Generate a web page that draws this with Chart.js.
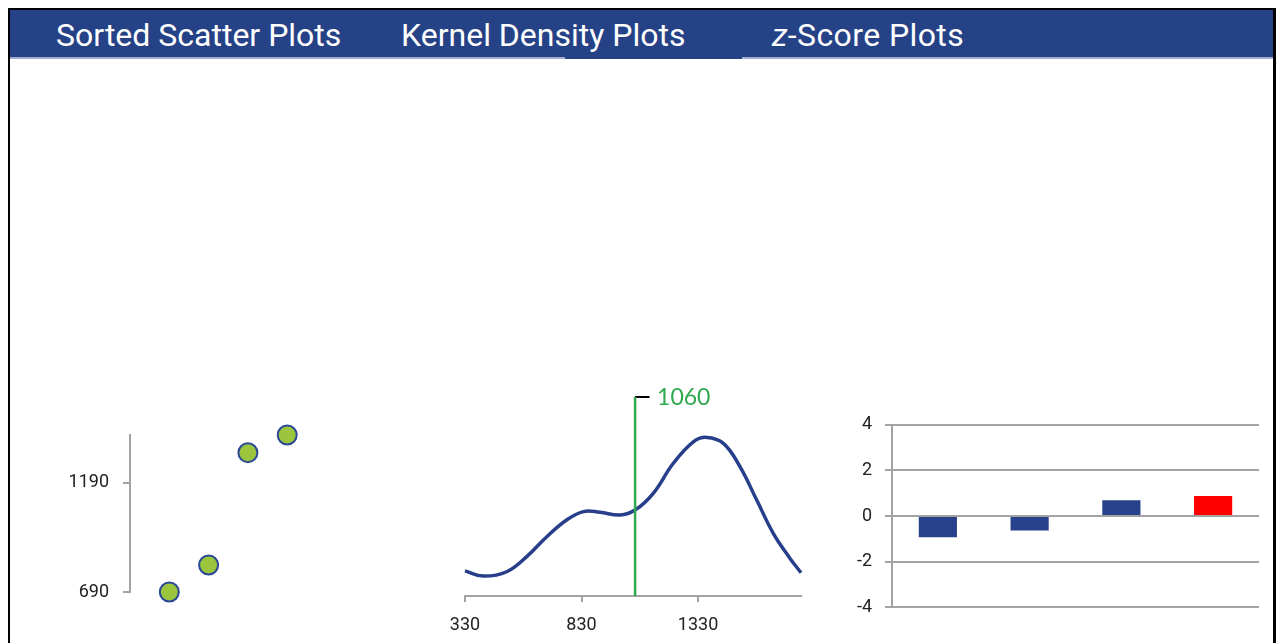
<!DOCTYPE html>
<html><head><meta charset="utf-8">
<script src="https://cdn.jsdelivr.net/npm/chart.js@4.4.1/dist/chart.umd.min.js"></script>
<style>
html,body{margin:0;padding:0;background:#fff;}
body{width:1276px;height:643px;position:relative;overflow:hidden;}
.blk{position:absolute;background:#000;}
.header{position:absolute;left:10px;top:10px;width:1263px;height:47px;background:#264287;}
.header-line{position:absolute;left:10px;top:57px;width:1263px;height:2px;background:#a3add0;}
.active{position:absolute;left:565px;top:57px;width:177px;height:2px;background:#264287;}
.tab{position:absolute;top:19px;color:#fff;font-family:Roboto,'Noto Sans',sans-serif;font-size:32px;line-height:32px;white-space:nowrap;}
canvas{position:absolute;}
</style></head>
<body>
<div class="blk" style="left:8px;top:8px;width:1268px;height:2px"></div>
<div class="blk" style="left:8px;top:8px;width:2px;height:635px"></div>
<div class="blk" style="left:1273px;top:8px;width:3px;height:635px"></div>
<div class="header"></div>
<div class="header-line"></div>
<div class="active"></div>
<div class="tab" style="left:56px">Sorted Scatter Plots</div>
<div class="tab" style="left:401px">Kernel Density Plots</div>
<div class="tab" style="left:772px;letter-spacing:0.4px"><i>z</i>-Score Plots</div>

<canvas id="c1" width="340" height="200" style="left:0px;top:415px"></canvas>
<canvas id="c2" width="390" height="273" style="left:440px;top:370px"></canvas>
<canvas id="c3" width="430" height="243" style="left:840px;top:400px"></canvas>

<script>
// ---- data ----
const scatterX = [1, 2, 3, 4];
const scatterY = [690, 814, 1329, 1410];
const scatterTicks = [690, 1190];

const densityX = [330, 409, 509, 595, 681, 766, 838, 909, 995, 1060, 1138, 1224, 1310, 1367, 1439, 1510, 1582, 1653, 1725, 1772];
const densityY = [0.126, 0.100, 0.122, 0.198, 0.298, 0.382, 0.424, 0.421, 0.407, 0.432, 0.516, 0.667, 0.775, 0.797, 0.767, 0.650, 0.482, 0.315, 0.189, 0.117];
const densityTicks = [330, 830, 1330];
const meanValue = 1060;
const meanLabel = '1060';

const zCategories = ['1', '2', '3', '4'];
const zValues = [-0.93, -0.64, 0.69, 0.88];
const zTicks = [-4, -2, 0, 2, 4];
const highlightIndex = 3;

// ---- styles ----
const tickFont = {family: "Roboto, sans-serif", size: 18};
const tickColor = '#222222';
const axisGrey = '#a3a3a3';
const navy = '#27428a';

Chart.defaults.animation = false;
Chart.defaults.responsive = false;
Chart.defaults.plugins.legend.display = false;
Chart.defaults.plugins.tooltip.enabled = false;

function fixVertical(width) {
  return s => { s.width = width; s.paddingTop = 0; s.paddingBottom = 0; };
}

// ---- scatter ----
new Chart(document.getElementById('c1'), {
  type: 'scatter',
  data: {datasets: [{
    data: scatterX.map((x, i) => ({x, y: scatterY[i]})),
    backgroundColor: '#9bc53d', borderColor: '#2b4898', borderWidth: 2,
    pointRadius: 9.5, clip: false
  }]},
  options: {
    layout: {padding: {top: 20, bottom: 23, left: 0, right: 13.5}},
    scales: {
      x: {type: 'linear', min: 0, max: 5, display: false},
      y: {type: 'linear', min: scatterTicks[0], max: scatterY[scatterY.length - 1],
        afterBuildTicks: s => { s.ticks = scatterTicks.map(v => ({value: v})); },
        afterFit: fixVertical(130),
        grid: {drawOnChartArea: false, drawTicks: true, tickLength: 7, color: axisGrey, lineWidth: 2},
        border: {display: true, color: axisGrey, width: 2},
        ticks: {font: tickFont, color: tickColor, padding: 14, callback: v => String(v)}
      }
    }
  }
});

// ---- kernel density ----
const meanLabelPlugin = {
  id: 'meanLabel',
  afterDatasetsDraw(chart) {
    const {ctx, scales: {x, y}} = chart;
    const px = x.getPixelForValue(meanValue);
    const py = y.getPixelForValue(y.max);
    ctx.save();
    ctx.fillStyle = '#2fa84f';
    ctx.font = "23px Lato, 'Open Sans', sans-serif";
    ctx.textAlign = 'left';
    ctx.textBaseline = 'middle';
    ctx.fillText(meanLabel, px + 22, py + 1);
    ctx.restore();
  }
};
new Chart(document.getElementById('c2'), {
  type: 'line',
  data: {datasets: [
    {data: [{x: meanValue, y: 0}, {x: meanValue, y: 1}], borderColor: '#2fa84f', borderWidth: 2.5, pointRadius: 0, clip: false},
    {data: [{x: meanValue, y: 1}, {x: meanValue + 62, y: 1}], borderColor: '#000000', borderWidth: 2, pointRadius: 0, clip: false},
    {data: densityX.map((x, i) => ({x, y: densityY[i]})), borderColor: '#273f8a', borderWidth: 3.5,
      pointRadius: 0, tension: 0.4, clip: false}
  ]},
  options: {
    layout: {padding: {top: 27, left: 25, right: 29, bottom: 0}},
    scales: {
      x: {type: 'linear', min: densityTicks[0], max: densityX[densityX.length - 1],
        afterBuildTicks: s => { s.ticks = densityTicks.map(v => ({value: v})); },
        afterFit: s => { s.height = 47; s.paddingLeft = 0; s.paddingRight = 0; },
        grid: {drawOnChartArea: false, drawTicks: true, tickLength: 6, color: axisGrey, lineWidth: 2},
        border: {display: true, color: axisGrey, width: 2},
        ticks: {font: tickFont, color: tickColor, padding: 13, maxRotation: 0, callback: v => String(v)}
      },
      y: {type: 'linear', min: 0, max: 1, display: false}
    }
  },
  plugins: [meanLabelPlugin]
});

// ---- z-scores ----
new Chart(document.getElementById('c3'), {
  type: 'bar',
  data: {labels: zCategories, datasets: [{
    data: zValues,
    backgroundColor: ctx => ctx.dataIndex === highlightIndex ? '#ff0000' : navy,
    categoryPercentage: 0.8, barPercentage: 0.52
  }]},
  options: {
    layout: {padding: {top: 24.7, bottom: 35.7, left: 0, right: 11}},
    scales: {
      x: {display: false},
      y: {min: zTicks[0], max: zTicks[zTicks.length - 1],
        afterBuildTicks: s => { s.ticks = zTicks.map(v => ({value: v})); },
        afterFit: fixVertical(52),
        grid: {drawTicks: true, tickLength: 7, color: axisGrey, lineWidth: 2},
        border: {display: true, color: axisGrey, width: 2},
        ticks: {font: tickFont, color: tickColor, padding: 13, callback: v => String(v)}
      }
    }
  }
});
</script>
</body></html>
